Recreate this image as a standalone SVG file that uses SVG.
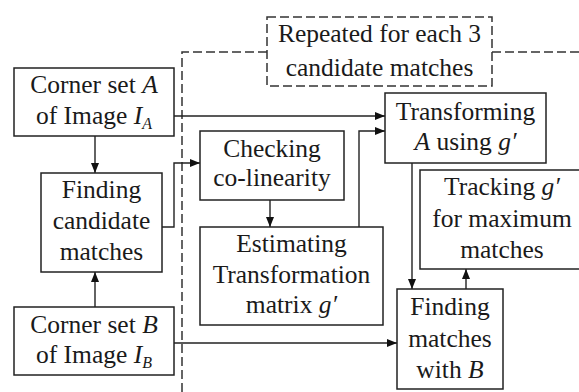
<svg xmlns="http://www.w3.org/2000/svg" width="579" height="392" viewBox="0 0 579 392">
  <style>
    .box { fill: #fff; stroke: #222; stroke-width: 1.5; }
    .lbl { font-family: 'Liberation Serif', Tinos, 'Times New Roman', 'DejaVu Serif', serif; font-size: 25.5px; fill: #1a1a1a; text-anchor: middle; }
    .it { font-style: italic; }
    .sub { font-style: italic; font-size: 16px; }
    .edge { fill: none; stroke: #222; stroke-width: 1.4; }
    .dash { fill: none; stroke: #333; stroke-width: 1.5; stroke-dasharray: 9 4; }
  </style>
  <defs>
    <marker id="arrow" viewBox="0 0 10 8" refX="10" refY="4" markerWidth="10" markerHeight="8" markerUnits="userSpaceOnUse" orient="auto">
      <path d="M0,0 L10,4 L0,8 z" fill="#111"/>
    </marker>
  </defs>
  <rect width="579" height="392" fill="#fff"/>

  <!-- repeated region boundary -->
  <g id="loop-region">
    <path class="dash" d="M182,392 V52 H267"/>
    <path class="dash" d="M492,52 H579"/>
    <rect class="dash" x="267" y="17" width="225" height="69"/>
    <text class="lbl" x="379.5" y="42">Repeated for each 3</text>
    <text class="lbl" x="379.5" y="76">candidate matches</text>
  </g>

  <g id="connectors">
    <path class="edge" d="M174,116 H385" marker-end="url(#arrow)"/>
    <path class="edge" d="M95,136 V173" marker-end="url(#arrow)"/>
    <path class="edge" d="M95,307 V272" marker-end="url(#arrow)"/>
    <path class="edge" d="M162,227 H174 V163 H200" marker-end="url(#arrow)"/>
    <path class="edge" d="M270,200 V227" marker-end="url(#arrow)"/>
    <path class="edge" d="M359,227 V131 H385" marker-end="url(#arrow)"/>
    <path class="edge" d="M412,163 V289" marker-end="url(#arrow)"/>
    <path class="edge" d="M174,343 H397" marker-end="url(#arrow)"/>
    <path class="edge" d="M466,289 V269" marker-end="url(#arrow)"/>
  </g>

  <g id="corner-a">
    <rect class="box" x="14" y="68" width="160" height="68"/>
    <text class="lbl" x="94" y="93">Corner set <tspan class="it">A</tspan></text>
    <text class="lbl" x="94" y="124">of Image <tspan class="it">I</tspan><tspan class="sub" dy="5">A</tspan></text>
  </g>

  <g id="finding-candidates">
    <rect class="box" x="41" y="173" width="121" height="99"/>
    <text class="lbl" x="101.5" y="198">Finding</text>
    <text class="lbl" x="101.5" y="229">candidate</text>
    <text class="lbl" x="101.5" y="260">matches</text>
  </g>

  <g id="corner-b">
    <rect class="box" x="14" y="307" width="160" height="68"/>
    <text class="lbl" x="94" y="333">Corner set <tspan class="it">B</tspan></text>
    <text class="lbl" x="94" y="363">of Image <tspan class="it">I</tspan><tspan class="sub" dy="5">B</tspan></text>
  </g>

  <g id="checking">
    <rect class="box" x="200" y="131" width="144" height="69"/>
    <text class="lbl" x="272" y="157">Checking</text>
    <text class="lbl" x="272" y="186">co-linearity</text>
  </g>

  <g id="estimating">
    <rect class="box" x="200" y="227" width="183" height="98"/>
    <text class="lbl" x="291.5" y="252">Estimating</text>
    <text class="lbl" x="291.5" y="283">Transformation</text>
    <text class="lbl" x="291.5" y="313">matrix <tspan class="it">g′</tspan></text>
  </g>

  <g id="transforming">
    <rect class="box" x="385" y="93" width="161" height="70"/>
    <text class="lbl" x="465.5" y="120">Transforming</text>
    <text class="lbl" x="465.5" y="150"><tspan class="it">A</tspan> using <tspan class="it">g′</tspan></text>
  </g>

  <g id="tracking">
    <rect class="box" x="420" y="170" width="162" height="99"/>
    <text class="lbl" x="502" y="195">Tracking <tspan class="it">g′</tspan></text>
    <text class="lbl" x="502" y="227">for maximum</text>
    <text class="lbl" x="502" y="258">matches</text>
  </g>

  <g id="finding-matches">
    <rect class="box" x="397" y="289" width="106" height="100"/>
    <text class="lbl" x="450" y="315">Finding</text>
    <text class="lbl" x="450" y="347">matches</text>
    <text class="lbl" x="450" y="378">with <tspan class="it">B</tspan></text>
  </g>
</svg>
